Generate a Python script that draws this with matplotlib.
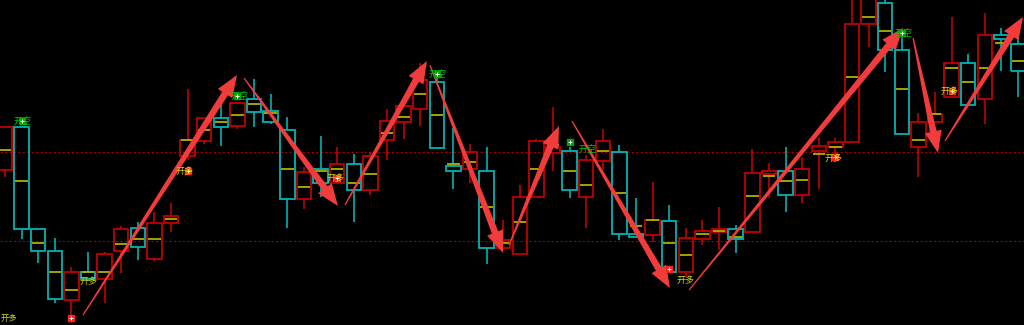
import numpy as np
import matplotlib
matplotlib.use("Agg")
import matplotlib.pyplot as plt
from matplotlib.patches import Rectangle, Polygon

plt.rcParams['font.family'] = ['Noto Sans CJK SC', 'DejaVu Sans']

# candles (price units)
opens  = [155, 198, 96, 74, 25, 53, 46, 74, 97, 66, 102, 169, 184, 207, 199, 226, 214, 195, 126, 156,
          142, 161, 135, 185, 203, 216, 243, 159, 156, 154, 77, 71, 128, 172, 174, 128, 164, 173, 91, 90,
          104, 53, 86, 93, 96, 93, 151, 154, 130, 174, 178, 183, 301, 322, 275, 178, 203, 228, 262, 226,
          290, 281]
highs  = [198, 198, 96, 87, 58, 73, 73, 99, 103, 113, 122, 236, 207, 220, 222, 246, 231, 208, 158, 189,
          178, 171, 173, 216, 219, 262, 247, 197, 181, 178, 105, 140, 186, 218, 178, 170, 196, 180, 127, 143,
          120, 97, 105, 118, 100, 176, 162, 178, 168, 188, 187, 330, 335, 330, 292, 212, 233, 308, 271, 312,
          297, 295]
lows   = [148, 86, 62, 22, 2, 44, 22, 52, 65, 64, 93, 165, 181, 179, 196, 198, 201, 97, 116, 128,
          142, 103, 130, 165, 186, 199, 177, 136, 142, 61, 75, 71, 128, 154, 127, 97, 155, 85, 88, 83,
          53, 48, 80, 75, 72, 93, 127, 113, 122, 136, 168, 183, 278, 253, 191, 148, 203, 228, 220, 201,
          254, 228]
closes = [198, 96, 74, 26, 53, 46, 71, 96, 78, 102, 109, 185, 207, 198, 222, 213, 203, 126, 153, 142,
          161, 135, 169, 204, 219, 245, 177, 154, 173, 77, 85, 128, 184, 178, 135, 165, 184, 91, 88, 105,
          53, 87, 94, 96, 86, 152, 154, 130, 156, 179, 183, 301, 330, 275, 191, 203, 211, 262, 220, 290,
          286, 254]
mids   = [175, 144, 82, 53, 35, 53, 53, 81, 86, 86, 106, 185, 195, 203, 210, 221, 212, 156, 138, 154,
          156, 142, 151, 192, 208, 231, 210, 161, 163, 118, 82, 103, 156, 180, 154, 140, 174, 132, 99, 105,
          82, 70, 91, 94, 88, 129, 149, 144, 145, 171, 178, 248, 308, 294, 236, 185, 211, 257, 243, 257,
          282, 264]

# trade signals
short_idx = [1, 14, 26, 34, 54]
short_price = [204, 229, 251, 183, 292]
short_label_x = [1.05, 14.1, 26.05, 35.1, 54.1]
short_label_y = [204, 229, 251, 176, 292]

long_idx = [4, 11, 20, 40, 50, 57]
long_price = [7, 154, 147, 56, 168, 234]
long_label_x = [5.0, 10.8, 19.9, 40.95, 49.9, 56.9]
long_label_y = [44, 154, 147, 45, 167, 234]

# swing arrows: (x0, y0, x1, y1) in candle index / price
arrow_x0 = [4.70, 14.39, 20.47, 25.59, 30.35, 34.14, 41.19, 54.68, 56.60]
arrow_y0 = [10, 247, 120, 260, 80, 204, 35, 287, 184]
arrow_x1 = [13.97, 20.05, 25.41, 29.99, 33.36, 40.04, 54.07, 56.18, 61.30]
arrow_y1 = [250, 119, 264, 72, 199, 37, 297, 172, 308]

level_lines = [173, 84]

UP = '#c00000'
DOWN = '#00b4b4'
MID = '#b0b000'
BG = '#000000'

fig = plt.figure(figsize=(10.24, 3.25), dpi=100, facecolor=BG)
ax = fig.add_axes([0, 0, 1, 1])
ax.set_facecolor(BG)
ax.set_xlim(-0.30, 61.36)
ax.set_ylim(0, 325)
ax.axis('off')

for lv in level_lines:
    ax.axhline(lv, color='#a00000', lw=0.8, ls=(0, (2, 2)), zorder=1)

w = 0.87
for i in range(len(opens)):
    o, h, l, c, m = opens[i], highs[i], lows[i], closes[i], mids[i]
    col = UP if c >= o else DOWN
    top, bot = max(o, c), min(o, c)
    if h > top:
        ax.vlines(i, top, h, color=col, lw=1.2, zorder=2)
    if l < bot:
        ax.vlines(i, l, bot, color=col, lw=1.2, zorder=2)
    ax.add_patch(Rectangle((i - w / 2, bot), w, max(top - bot, 1.5), facecolor='none',
                           edgecolor=col, lw=1.3, zorder=3))
    ax.hlines(m, i - w / 2 + 0.06, i + w / 2 - 0.06, color=MID, lw=1.3, zorder=3)

# signal markers and labels
ax.scatter(short_idx, short_price, marker='s', s=20, color='#00a000', zorder=6)
ax.scatter(short_idx, short_price, marker='+', s=10, color='white', lw=0.7, zorder=7)
for x, y in zip(short_label_x, short_label_y):
    ax.text(x, y, '开空', color='#00c800', fontsize=6.5, ha='center', va='center', zorder=6)

ax.scatter(long_idx, long_price, marker='s', s=20, color='#ff2020', zorder=6)
ax.scatter(long_idx, long_price, marker='+', s=10, color='white', lw=0.7, zorder=7)
for x, y in zip(long_label_x, long_label_y):
    ax.text(x, y, '开多', color='#d8d800', fontsize=6.5, ha='center', va='center', zorder=8)
ax.text(-0.28, 2, '开多', color='#d8d800', fontsize=6, ha='left', va='bottom', zorder=8)


def draw_arrow(x0, y0, x1, y1):
    p0 = ax.transData.transform((x0, y0))
    p1 = ax.transData.transform((x1, y1))
    d = p1 - p0
    u = d / np.hypot(*d)
    n = np.array([-u[1], u[0]])
    head_len, head_w, tail0, tail1 = 22, 8.5, 0.6, 3.4
    base = p1 - u * head_len
    pts = np.array([p0 + n * tail0, base + n * tail1, base + n * head_w, p1,
                    base - n * head_w, base - n * tail1, p0 - n * tail0])
    pts = ax.transData.inverted().transform(pts)
    ax.add_patch(Polygon(pts, closed=True, facecolor='#f23c3c', edgecolor='none', zorder=5))


for a in range(len(arrow_x0)):
    draw_arrow(arrow_x0[a], arrow_y0[a], arrow_x1[a], arrow_y1[a])

fig.savefig('out.png', dpi=100, facecolor=BG)
